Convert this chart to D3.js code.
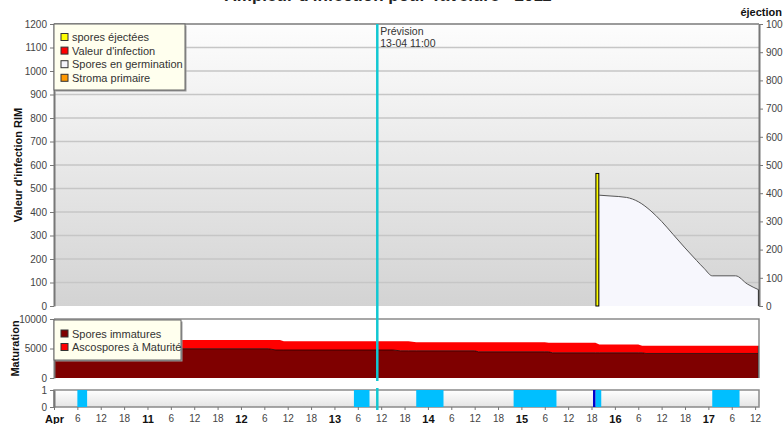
<!DOCTYPE html>
<html>
<head>
<meta charset="utf-8">
<script src="https://cdn.jsdelivr.net/npm/d3@7"></script>
<style>
  body { margin: 0; background: #fff; }
  text { font-family: "Liberation Sans", Arial, sans-serif; }
</style>
</head>
<body>
<div id="chart"></div>
<script>
// data
var startTime = "2011-04-10 00:00", endTime = "2011-04-17 13:00";
var forecastTime = "2011-04-13 11:00";

var ejectTimes = ["2011-04-15 19:00"];
var ejectValues = [470];

var germTimes = ["2011-04-15 20:00", "2011-04-15 23:00", "2011-04-16 03:00", "2011-04-16 06:00",
  "2011-04-16 09:00", "2011-04-16 12:00", "2011-04-16 15:00", "2011-04-16 18:00", "2011-04-16 21:00",
  "2011-04-16 23:00", "2011-04-17 01:00", "2011-04-17 07:00", "2011-04-17 10:00", "2011-04-17 13:00"];
var germValues = [393, 390, 385, 370, 340, 300, 253, 206, 161, 132, 107, 107, 78, 57];

var matTimes = ["2011-04-10 00:00", "2011-04-12 07:00", "2011-04-12 09:00", "2011-04-12 10:00",
  "2011-04-12 11:00", "2011-04-13 15:00", "2011-04-13 17:00", "2011-04-13 19:00", "2011-04-13 21:00",
  "2011-04-14 12:00", "2011-04-14 13:00", "2011-04-15 06:00", "2011-04-15 07:00", "2011-04-15 08:00",
  "2011-04-15 19:00", "2011-04-15 20:00", "2011-04-16 06:00", "2011-04-16 07:00", "2011-04-16 08:00",
  "2011-04-17 13:00"];
var immatures = [4950, 4950, 4750, 4750, 4750, 4750, 4600, 4600, 4600, 4600, 4430, 4430, 4430, 4260,
  4260, 4260, 4260, 4260, 4160, 4160];
var matures = [1470, 1470, 1670, 1670, 1500, 1500, 1650, 1650, 1480, 1480, 1650, 1650, 1530, 1700,
  1700, 1430, 1430, 1190, 1290, 1290];

var wetStarts = ["2011-04-10 06:00", "2011-04-13 05:00", "2011-04-13 21:00", "2011-04-14 22:00",
  "2011-04-15 19:00", "2011-04-17 01:00"];
var wetEnds = ["2011-04-10 08:30", "2011-04-13 09:00", "2011-04-14 04:00", "2011-04-15 09:00",
  "2011-04-15 20:30", "2011-04-17 08:00"];
var rainStarts = ["2011-04-15 18:00"];
var rainEnds = ["2011-04-15 19:00"];

var legendMain = [["spores éjectées", "#ffff00"], ["Valeur d'infection", "#ff0000"],
  ["Spores en germination", "#f4f4fb"], ["Stroma primaire", "#ff9900"]];
var legendMat = [["Spores immatures", "#7f0000"], ["Ascospores à Maturité", "#ff0000"]];

var parse = d3.utcParse("%Y-%m-%d %H:%M");

var width = 783, height = 424;
var left = 54, right = 759;
var mainTop = 24, mainBottom = 306;
var matTop = 319, matBottom = 378;
var stripTop = 390, stripBottom = 407;

var svg = d3.select("#chart").append("svg")
  .attr("width", width).attr("height", height);

var defs = svg.append("defs");
var g1 = defs.append("linearGradient").attr("id", "bgMain")
  .attr("x1", 0).attr("y1", 0).attr("x2", 0).attr("y2", 1);
g1.append("stop").attr("offset", "0%").attr("stop-color", "#fdfdfd");
g1.append("stop").attr("offset", "100%").attr("stop-color", "#d3d3d3");
var g2 = defs.append("linearGradient").attr("id", "bgStrip")
  .attr("x1", 0).attr("y1", 0).attr("x2", 0).attr("y2", 1);
g2.append("stop").attr("offset", "0%").attr("stop-color", "#ffffff");
g2.append("stop").attr("offset", "100%").attr("stop-color", "#e4e4e4");

var x = d3.scaleUtc()
  .domain([parse(startTime), parse(endTime)])
  .range([left, right]);
var yLeft = d3.scaleLinear().domain([0, 1200]).range([mainBottom, mainTop]);
var yRight = d3.scaleLinear().domain([0, 1000]).range([mainBottom, mainTop]);
var yMat = d3.scaleLinear().domain([0, 10000]).range([matBottom, matTop]);
var yStrip = d3.scaleLinear().domain([0, 1]).range([stripBottom, stripTop]);

// title (cut at top edge, as in the original)
svg.append("text")
  .attr("x", 388).attr("y", 1)
  .attr("text-anchor", "middle")
  .style("font-size", "17px").style("font-weight", "bold").style("fill", "#222")
  .text("Ampleur d'infection pour Tavelure - 2011");

// ---------- main panel ----------
svg.append("rect")
  .attr("x", left).attr("y", mainTop)
  .attr("width", right - left).attr("height", mainBottom - mainTop)
  .style("fill", "url(#bgMain)");

svg.selectAll("gridMain")
  .data(d3.range(100, 1201, 100))
  .enter().append("line")
  .attr("x1", left).attr("x2", right)
  .attr("y1", d => yLeft(d)).attr("y2", d => yLeft(d))
  .style("stroke", "#c6c6c6").style("stroke-width", 1.5);

svg.append("line")
  .attr("x1", left).attr("x2", right).attr("y1", mainTop).attr("y2", mainTop)
  .style("stroke", "#888").style("stroke-width", 1.5);

// germination area
var germ = germTimes.map((t, i) => ({ t: parse(t), v: germValues[i] }));
svg.append("path")
  .datum(germ)
  .attr("d", d3.area().curve(d3.curveMonotoneX)
    .x(d => x(d.t)).y0(yRight(0)).y1(d => yRight(d.v)))
  .style("fill", "#f7f7fd");
svg.append("path")
  .datum(germ)
  .attr("d", d3.line().curve(d3.curveMonotoneX).x(d => x(d.t)).y(d => yRight(d.v)))
  .style("fill", "none").style("stroke", "#555").style("stroke-width", 1);
svg.append("line")
  .attr("x1", x(germ[germ.length - 1].t) - 0.5).attr("x2", x(germ[germ.length - 1].t) - 0.5)
  .attr("y1", yRight(germ[germ.length - 1].v)).attr("y2", yRight(0))
  .style("stroke", "#000").style("stroke-width", 1.2);

// ejected spores bar
svg.selectAll("ejectBar")
  .data(ejectTimes)
  .enter().append("rect")
  .attr("x", d => x(parse(d)) + 0.5)
  .attr("width", d => x(d3.utcHour.offset(parse(d), 1)) - x(parse(d)) - 1)
  .attr("y", (d, i) => yRight(ejectValues[i]))
  .attr("height", (d, i) => yRight(0) - yRight(ejectValues[i]))
  .style("fill", "#ffff00").style("stroke", "#000").style("stroke-width", 1);

// axes main
var fmt = d3.format("d");
var axL = svg.append("g").attr("transform", "translate(" + left + ",0)")
  .call(d3.axisLeft(yLeft).tickValues(d3.range(0, 1201, 100)).tickFormat(fmt).tickSize(4).tickSizeOuter(0));
var axR = svg.append("g").attr("transform", "translate(" + right + ",0)")
  .call(d3.axisRight(yRight).tickValues(d3.range(0, 1001, 100)).tickFormat(fmt).tickSize(4).tickSizeOuter(0));

svg.append("text")
  .attr("transform", "translate(22," + ((mainTop + mainBottom) / 2) + ") rotate(-90)")
  .attr("text-anchor", "middle")
  .style("font-size", "11px").style("font-weight", "bold").style("fill", "#111")
  .text("Valeur d'infection RIM");
svg.append("text")
  .attr("x", 782).attr("y", 16).attr("text-anchor", "end")
  .style("font-size", "11px").style("font-weight", "bold").style("fill", "#111")
  .text("éjection");

// ---------- maturation panel ----------
svg.append("rect")
  .attr("x", left).attr("y", matTop)
  .attr("width", right - left).attr("height", matBottom - matTop)
  .style("fill", "#fff");

var mat = matTimes.map((t, i) => ({ t: parse(t), a: immatures[i], b: immatures[i] + matures[i] }));
svg.append("path")
  .datum(mat)
  .attr("d", d3.area().x(d => x(d.t)).y0(d => yMat(d.a)).y1(d => yMat(d.b)))
  .style("fill", "#ff0000");
svg.append("path")
  .datum(mat)
  .attr("d", d3.area().x(d => x(d.t)).y0(yMat(0)).y1(d => yMat(d.a)))
  .style("fill", "#7f0000");
svg.append("path")
  .datum(mat)
  .attr("d", d3.line().x(d => x(d.t)).y(d => yMat(d.a)))
  .style("fill", "none").style("stroke", "#220000").style("stroke-width", 0.8);
svg.append("line")
  .attr("x1", right - 0.5).attr("x2", right - 0.5)
  .attr("y1", yMat(mat[mat.length - 1].b)).attr("y2", matBottom)
  .style("stroke", "#000").style("stroke-width", 1.2);

svg.append("path")
  .attr("d", "M" + left + "," + matTop + "H" + right + "V" + matBottom)
  .style("fill", "none").style("stroke", "#8a8a8a").style("stroke-width", 1.5);

var axM = svg.append("g").attr("transform", "translate(" + left + ",0)")
  .call(d3.axisLeft(yMat).tickValues([0, 5000, 10000]).tickFormat(fmt).tickSize(4).tickSizeOuter(0));

svg.append("text")
  .attr("transform", "translate(19," + ((matTop + matBottom) / 2) + ") rotate(-90)")
  .attr("text-anchor", "middle")
  .style("font-size", "11px").style("font-weight", "bold").style("fill", "#111")
  .text("Maturation");

// ---------- wetness strip ----------
svg.append("rect")
  .attr("x", left).attr("y", stripTop)
  .attr("width", right - left).attr("height", stripBottom - stripTop)
  .style("fill", "url(#bgStrip)").style("stroke", "#8a8a8a").style("stroke-width", 1.5);

svg.selectAll("wetBlock")
  .data(wetStarts)
  .enter().append("rect")
  .attr("x", d => x(parse(d)))
  .attr("width", (d, i) => x(parse(wetEnds[i])) - x(parse(d)))
  .attr("y", yStrip(1)).attr("height", yStrip(0) - yStrip(1))
  .style("fill", "#00bfff");
svg.selectAll("rainBlock")
  .data(rainStarts)
  .enter().append("rect")
  .attr("x", d => x(parse(d)) + 1.5)
  .attr("width", (d, i) => x(parse(rainEnds[i])) - x(parse(d)) - 1.5)
  .attr("y", yStrip(1)).attr("height", yStrip(0) - yStrip(1))
  .style("fill", "#0000cc");

var axS = svg.append("g").attr("transform", "translate(" + left + ",0)")
  .call(d3.axisLeft(yStrip).tickValues([0, 1]).tickFormat(fmt).tickSize(4).tickSizeOuter(0));

// time axis
var ticks = d3.utcHour.every(6).range(parse(startTime), d3.utcHour.offset(parse(endTime), 1));
var axX = svg.append("g").attr("transform", "translate(0," + stripBottom + ")")
  .call(d3.axisBottom(x).tickValues(ticks).tickSize(3).tickSizeOuter(0)
    .tickFormat(function(d, i) {
      if (i === 0) return "Apr";
      return d.getUTCHours() === 0 ? d3.utcFormat("%-d")(d) : d.getUTCHours();
    }));
axX.select(".domain").remove();
axX.selectAll(".tick text")
  .attr("dy", "0.9em")
  .style("font-weight", d => d.getUTCHours() === 0 ? "bold" : "normal")
  .style("fill", d => d.getUTCHours() === 0 ? "#111" : "#444")
  .style("font-size", d => d.getUTCHours() === 0 ? "11px" : "10px");

// axis styling
[axL, axR, axM, axS].forEach(function(a) {
  a.select(".domain").style("stroke", "#777").style("stroke-width", 2);
  a.selectAll(".tick line").style("stroke", "#777");
  a.selectAll(".tick text").style("fill", "#444").style("font-size", "10px")
    .style("font-family", "'Liberation Sans', Arial, sans-serif");
});
axX.selectAll(".tick line").style("stroke", "#777");
axX.selectAll(".tick text").style("font-family", "'Liberation Sans', Arial, sans-serif");

// forecast line
var fx = x(parse(forecastTime));
svg.append("line")
  .attr("x1", fx).attr("x2", fx).attr("y1", mainTop).attr("y2", matBottom + 3)
  .style("stroke", "#12c8d2").style("stroke-width", 2.5);
svg.append("line")
  .attr("x1", fx).attr("x2", fx).attr("y1", stripTop - 2).attr("y2", stripBottom + 3)
  .style("stroke", "#12c8d2").style("stroke-width", 2.5);
svg.append("text").attr("x", fx + 3).attr("y", 35)
  .style("font-size", "10.5px").style("fill", "#333").text("Prévision");
svg.append("text").attr("x", fx + 3).attr("y", 47)
  .style("font-size", "10.5px").style("fill", "#333").text(d3.utcFormat("%d-%m %H:%M")(parse(forecastTime)));

// legends
function drawLegend(items, bx, by, bw, bh, y0, dy) {
  svg.append("rect").attr("x", bx + 1.5).attr("y", by + 1.5).attr("width", bw).attr("height", bh)
    .style("fill", "#999");
  svg.append("rect").attr("x", bx).attr("y", by).attr("width", bw).attr("height", bh)
    .style("fill", "#ffffee").style("stroke", "#666").style("stroke-width", 1);
  items.forEach(function(it, i) {
    svg.append("rect").attr("x", bx + 7).attr("y", y0 + i * dy - 3.5).attr("width", 7).attr("height", 7)
      .style("fill", it[1]).style("stroke", "#333").style("stroke-width", 1);
    svg.append("text").attr("x", bx + 18).attr("y", y0 + i * dy + 4)
      .style("font-size", "11px").style("fill", "#333").text(it[0]);
  });
}
drawLegend(legendMain, left, mainTop, 131, 66, 37, 13.6);
drawLegend(legendMat, left, matTop + 1, 127, 40, 333.5, 13.5);
</script>
</body>
</html>
